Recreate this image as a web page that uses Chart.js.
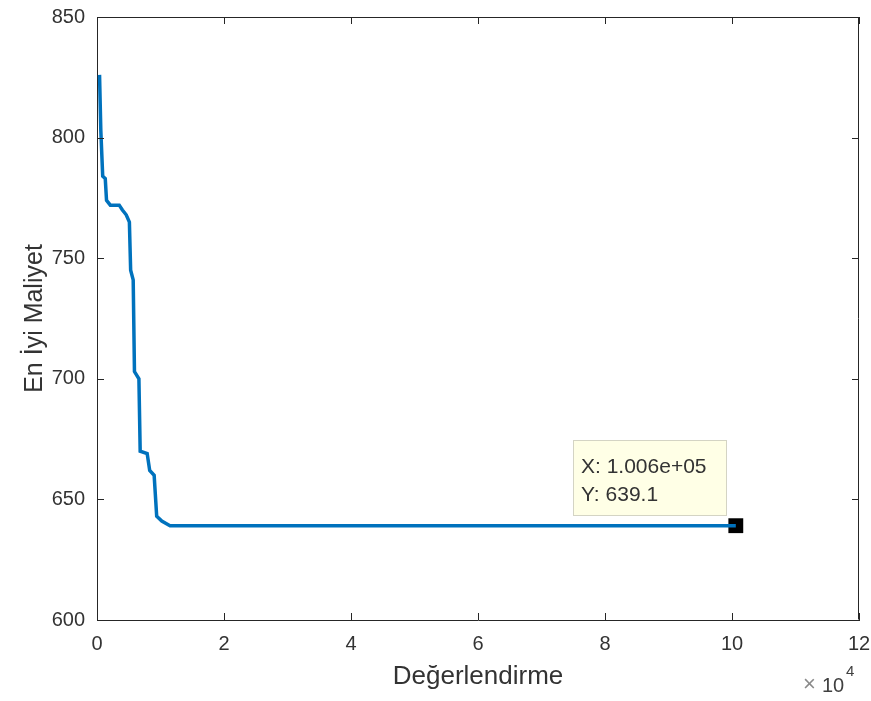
<!DOCTYPE html>
<html>
<head>
<meta charset="utf-8">
<script src="https://cdn.jsdelivr.net/npm/chart.js@4.4.0/dist/chart.umd.min.js"></script>
<style>
  html, body { margin: 0; padding: 0; background: #fff; }
  #wrap { width: 871px; height: 701px; }
</style>
</head>
<body>
<div id="wrap"><canvas id="MyChart1" width="871" height="701"></canvas></div>
<script>
// evaluations vs best cost
var evals = [400, 600, 900, 1300, 1500, 2100, 3500, 4000, 4600, 5100, 5300, 5700, 5900, 6600, 6800, 7900, 8300, 9000, 9400, 10200, 11500, 100600];
var cost  = [826, 803, 784, 783, 774, 772, 772, 770, 768, 765, 745, 741, 703, 700, 670, 669, 662, 660, 643, 641, 639.1, 639.1];
var tipX = 100600, tipY = 639.1;
var xTicks = [0, 2, 4, 6, 8, 10, 12];   // x 10^4
var yTicks = [600, 650, 700, 750, 800, 850];

var fontFam = 'Liberation Sans, Arial, Helvetica, sans-serif',
    txtColor = '#333333';

var points = evals.map(function (e, i) { return { x: e, y: cost[i] }; });

// MATLAB-like box, inward ticks, datatip and exponent label
var matlabAxes = {
  id: 'matlabAxes',
  afterDraw: function (c) {
    var ctx = c.ctx, a = c.chartArea, xs = c.scales.x, ys = c.scales.y;
    ctx.save();
    ctx.strokeStyle = '#262626';
    ctx.lineWidth = 1;
    ctx.beginPath();
    ctx.moveTo(a.left + 0.5, a.top + 0.5);
    ctx.lineTo(a.right - 0.5, a.top + 0.5);
    ctx.lineTo(a.right - 0.5, a.bottom - 0.5);
    ctx.stroke();
    var tl = 7;
    xTicks.forEach(function (t) {
      var px = Math.round(xs.getPixelForValue(t * 1e4)) + 0.5;
      ctx.beginPath();
      ctx.moveTo(px, a.bottom); ctx.lineTo(px, a.bottom - tl);
      ctx.moveTo(px, a.top); ctx.lineTo(px, a.top + tl);
      ctx.stroke();
    });
    yTicks.forEach(function (t) {
      var py = Math.round(ys.getPixelForValue(t)) + 0.5;
      ctx.beginPath();
      ctx.moveTo(a.left, py); ctx.lineTo(a.left + tl, py);
      ctx.moveTo(a.right, py); ctx.lineTo(a.right - tl, py);
      ctx.stroke();
    });

    // datatip
    var mx = xs.getPixelForValue(tipX), my = ys.getPixelForValue(tipY);
    var bx = Math.round(mx - 163), by = Math.round(my - 86), bw = 153, bh = 75;
    ctx.fillStyle = '#ffffe6';
    ctx.fillRect(bx, by, bw, bh);
    ctx.strokeStyle = '#d4d4c4';
    ctx.strokeRect(bx + 0.5, by + 0.5, bw, bh);
    ctx.fillStyle = txtColor;
    ctx.font = '21px ' + fontFam;
    ctx.textBaseline = 'middle';
    ctx.textAlign = 'left';
    ctx.fillText('X: 1.006e+05', bx + 8, by + 27);
    ctx.fillText('Y: 639.1', bx + 8, by + 55);

    // exponent
    ctx.fillStyle = '#8a8a8a';
    ctx.font = '22px ' + fontFam;
    ctx.textBaseline = 'middle';
    ctx.fillText('\u00d7', 803, 685);
    ctx.fillStyle = '#404040';
    ctx.textBaseline = 'alphabetic';
    ctx.font = '20px ' + fontFam;
    ctx.fillText('10', 822, 692);
    ctx.font = '15px ' + fontFam;
    ctx.fillText('4', 846, 676);
    ctx.restore();
  }
};

var chart = new Chart(document.getElementById('MyChart1').getContext('2d'), {
  type: 'line',
  data: {
    datasets: [{
      data: points,
      borderColor: '#0072BD',
      borderWidth: 3.5,
      pointRadius: 0,
      tension: 0,
      fill: false
    }, {
      data: [{ x: tipX, y: tipY }],
      showLine: false,
      pointStyle: 'rect',
      pointRadius: 10.5,
      backgroundColor: '#000',
      borderColor: '#000',
      borderWidth: 0
    }]
  },
  options: {
    responsive: false,
    animation: false,
    layout: { padding: { left: 0, right: 12, top: 17, bottom: 0 } },
    plugins: { legend: { display: false }, tooltip: { enabled: false } },
    scales: {
      x: {
        type: 'linear',
        min: 0, max: 120000,
        afterFit: function (s) { s.height = 81; s.paddingLeft = 0; s.paddingRight = 0; },
        afterBuildTicks: function (s) { s.ticks = xTicks.map(function (t) { return { value: t * 1e4 }; }); },
        ticks: {
          autoSkip: false, maxRotation: 0, padding: 12,
          color: txtColor, font: { family: fontFam, size: 20 },
          callback: function (v) { return String(v / 1e4); }
        },
        grid: { display: false, drawTicks: false },
        border: { display: true, color: '#262626', width: 1 },
        title: {
          display: true, text: 'Değerlendirme', color: txtColor,
          font: { family: fontFam, size: 26 }, padding: { top: 0, bottom: 9 }
        }
      },
      y: {
        min: 600, max: 850,
        afterFit: function (s) { s.width = 97; s.paddingTop = 0; s.paddingBottom = 0; },
        afterBuildTicks: function (s) { s.ticks = yTicks.map(function (t) { return { value: t }; }); },
        ticks: {
          autoSkip: false, padding: 12,
          color: txtColor, font: { family: fontFam, size: 20 }
        },
        grid: { display: false, drawTicks: false },
        border: { display: true, color: '#262626', width: 1 },
        title: {
          display: true, text: 'En İyi Maliyet', color: txtColor,
          font: { family: fontFam, size: 25 }, padding: { top: 20, bottom: 0 }
        }
      }
    }
  },
  plugins: [matlabAxes]
});
</script>
</body>
</html>
